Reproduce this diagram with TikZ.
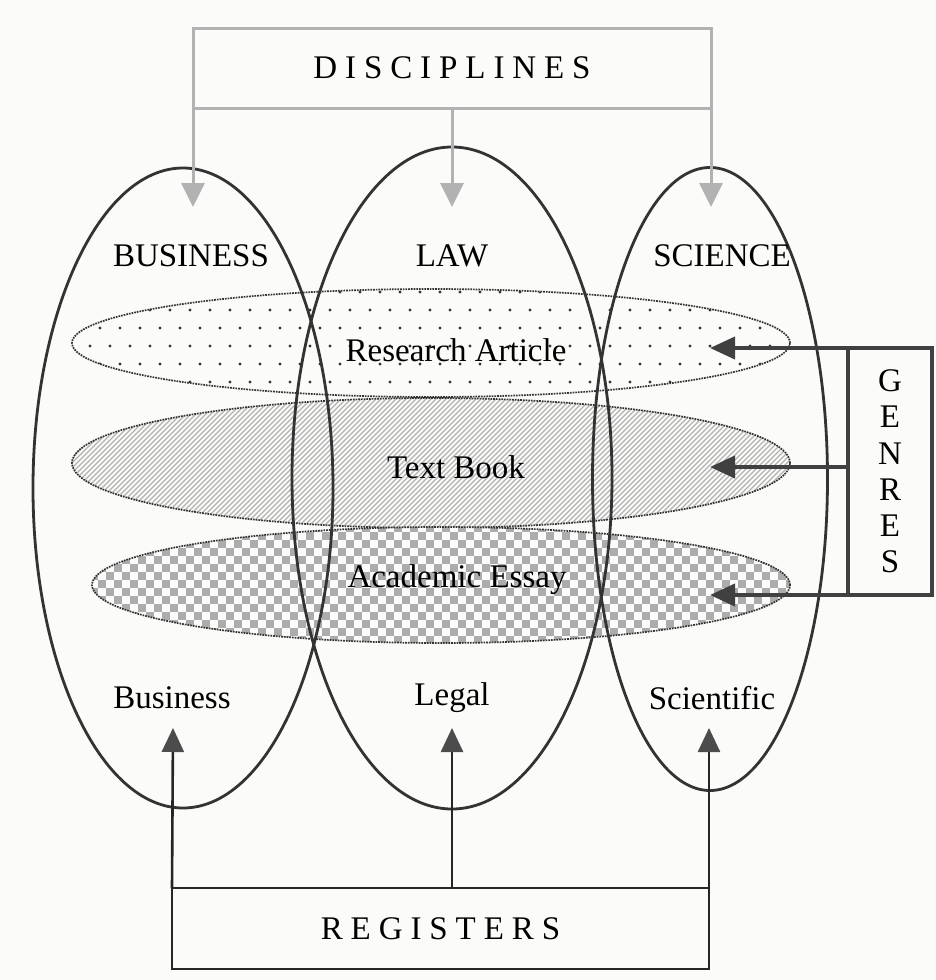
\documentclass[tikz,border=0pt]{standalone}
\usepackage{fontspec}
\setmainfont{Liberation Serif}
\newfontfamily\spaced[LetterSpace=24]{Liberation Serif} % Spaced capitals.
\usetikzlibrary{shapes.geometric,arrows.meta}

\definecolor{paper}{rgb}{0.985,0.985,0.975}
\definecolor{ink}{gray}{0.2}

\begin{document}
\begin{tikzpicture}[x=1pt,y=-1pt,font=\fontsize{33}{36.2}\selectfont,
    genre/.style={ellipse,draw=ink,densely dotted,line width=1.7pt,inner sep=0pt},
    field/.style={ellipse,draw=ink,line width=2.8pt,inner sep=0pt},
    frame/.style={draw,line width=3pt,outer sep=0pt,inner sep=0pt},
    discarrow/.style={gray!60,line width=3pt,-{Triangle[length=24pt,width=23pt]}},
    genrearrow/.style={black!75,line width=4pt,-{Triangle[length=25pt,width=22pt]}},
    regarrow/.style={black!85,line width=2.6pt,-{Triangle[length=24pt,width=22pt,color=black!70]}}]
\path[use as bounding box,fill=paper] (0,0) rectangle (936,980);

% dotted genre
\begin{scope}
  \clip (431,343) ellipse (359 and 54);
  \foreach \y [count=\r] in {292,310,...,400}
    \foreach \x in {70,90,...,800}
      \fill[black!80] ({\x+10*mod(\r,2)},\y) circle (1.6);
\end{scope}
\node[genre,minimum width=718,minimum height=108] (art) at (431,343) {};

% hatched genre
\begin{scope}
  \clip (431,463) ellipse (359 and 65);
  \fill[paper] (60,390) rectangle (800,540);
  \foreach \x in {-80,-75,...,800}
    \draw[gray!60,line width=1.1pt] (\x,540) -- ++(150,-150);
\end{scope}
\node[genre,minimum width=718,minimum height=130] (book) at (431,463) {};

% checked genre
\begin{scope}
  \clip (441,585) ellipse (349 and 58);
  \fill[paper] (80,520) rectangle (800,650);
  \foreach \i in {0,...,88}
    \foreach \j in {0,...,15}
      {\ifodd\numexpr\i+\j\relax\else\fill[gray!65] (90+8*\i,524+8*\j) rectangle ++(8,8);\fi}
\end{scope}
\node[genre,minimum width=698,minimum height=116] (essay) at (441,585) {};

\node (artT) at (456,350) {Research Article};
\node (bookT) at (456,467) {Text Book};
\node (essayT) at (457,580) {Academic Essay};

\node[field,minimum width=300,minimum height=640] (business) at (183,488) {};
\node[field,minimum width=320,minimum height=662] (law) at (452,478) {};
\node[field,minimum width=235,minimum height=623] (science) at (710,479) {};
\node (businessT) at (191,256) {BUSINESS};
\node (lawT) at (452,256) {LAW};
\node (scienceT) at (722,256) {SCIENCE};
\node (businessR) at (172,698) {Business};
\node (legalR) at (452,698) {Legal};
\node (scientificR) at (712,698) {Scientific};

\node[frame,draw=gray!60,minimum width=518,minimum height=80] (disc) at (452,68) {\spaced DISCIPLINES};
\node[frame,draw=black!75,line width=4pt,minimum width=84,minimum height=247,align=center] (gen) at (890,471.5) {G\\E\\N\\R\\E\\S};
\node[frame,draw=black!85,line width=2.6pt,minimum width=537,minimum height=81] (reg) at (440.5,928.5) {\spaced REGISTERS};

\coordinate (businessTop) at (193,207);
\coordinate (lawTop) at (452,207);
\coordinate (scienceTop) at (711,207);
\draw[discarrow] (disc.north west) -- (businessTop);
\draw[discarrow] (disc.south) -- (lawTop);
\draw[discarrow] (disc.north east) -- (scienceTop);

\coordinate (artTip) at (710,348);
\coordinate (bookTip) at (710,467);
\coordinate (essayTip) at (710,595);
\draw[genrearrow] (gen.north west) -- (artTip);
\draw[genrearrow] (gen.west |- bookTip) -- (bookTip);
\draw[genrearrow] (gen.south west) -- (essayTip);

\coordinate (businessBot) at (173,728);
\coordinate (legalBot) at (452,728);
\coordinate (scientificBot) at (709,728);
\draw[regarrow] (reg.north west) -- (businessBot);
\draw[regarrow] (reg.north -| legalBot) -- (legalBot);
\draw[regarrow] (reg.north east) -- (scientificBot);
\end{tikzpicture}
\end{document}
